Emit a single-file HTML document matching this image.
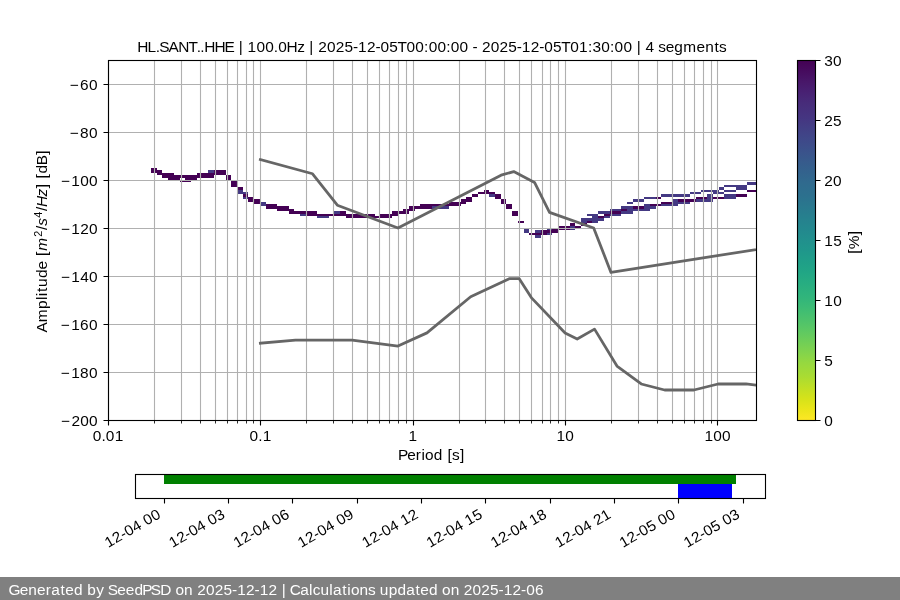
<!DOCTYPE html>
<html lang="en">
<head>
<meta charset="utf-8">
<title>PPSD HL.SANT..HHE</title>
<style>
html,body{margin:0;padding:0;background:#ffffff;}
body{width:900px;height:600px;overflow:hidden;font-family:"Liberation Sans",sans-serif;}
svg{display:block;}
</style>
</head>
<body>
<svg width="900" height="600" viewBox="0 0 900 600">
<defs>
<linearGradient id="vir" x1="0" y1="0" x2="0" y2="1"><stop offset="0" stop-color="#440154"/><stop offset="0.03" stop-color="#460b5e"/><stop offset="0.06" stop-color="#481769"/><stop offset="0.09" stop-color="#482173"/><stop offset="0.12" stop-color="#472c7a"/><stop offset="0.16" stop-color="#453581"/><stop offset="0.19" stop-color="#423f85"/><stop offset="0.22" stop-color="#3f4889"/><stop offset="0.25" stop-color="#3b518b"/><stop offset="0.28" stop-color="#375a8c"/><stop offset="0.31" stop-color="#33628d"/><stop offset="0.34" stop-color="#306a8e"/><stop offset="0.38" stop-color="#2c718e"/><stop offset="0.41" stop-color="#29798e"/><stop offset="0.44" stop-color="#26818e"/><stop offset="0.47" stop-color="#23888e"/><stop offset="0.5" stop-color="#21908d"/><stop offset="0.53" stop-color="#1f978b"/><stop offset="0.56" stop-color="#1f9f88"/><stop offset="0.59" stop-color="#21a685"/><stop offset="0.62" stop-color="#27ad81"/><stop offset="0.66" stop-color="#31b57b"/><stop offset="0.69" stop-color="#3dbc74"/><stop offset="0.72" stop-color="#4cc26c"/><stop offset="0.75" stop-color="#5cc863"/><stop offset="0.78" stop-color="#6ece58"/><stop offset="0.81" stop-color="#81d34d"/><stop offset="0.84" stop-color="#95d840"/><stop offset="0.88" stop-color="#aadc32"/><stop offset="0.91" stop-color="#c0df25"/><stop offset="0.94" stop-color="#d5e21a"/><stop offset="0.97" stop-color="#eae51a"/><stop offset="1" stop-color="#fde725"/></linearGradient>
<clipPath id="axclip"><rect x="108" y="60" width="648" height="360"/></clipPath>
</defs>
<rect x="0" y="0" width="900" height="600" fill="#ffffff"/>
<path d="M151 168h6v2h-6zM151 170h11v3h-11zM214 170h12v3h-12zM157 173h17v2h-17zM197 173h29v2h-29zM162 175h52v3h-52zM226 175h5v3h-5zM168 178h12v2h-12zM185 178h12v2h-12zM226 178h5v2h-5zM180 180h11v2h-11zM231 180h6v2h-6zM231 182h6v3h-6zM231 185h6v2h-6zM237 187h6v3h-6zM484 190h5v2h-5zM747 190h9v2h-9zM478 192h17v2h-17zM243 194h5v3h-5zM472 194h6v3h-6zM495 194h6v3h-6zM736 194h11v3h-11zM248 197h6v2h-6zM466 197h6v2h-6zM495 197h6v2h-6zM656 197h5v2h-5zM696 197h11v2h-11zM713 197h11v2h-11zM248 199h12v3h-12zM461 199h11v3h-11zM501 199h5v3h-5zM678 199h18v3h-18zM254 202h6v2h-6zM449 202h17v2h-17zM501 202h5v2h-5zM661 202h12v2h-12zM266 204h11v2h-11zM420 204h41v2h-41zM506 204h6v2h-6zM650 204h11v2h-11zM266 206h23v3h-23zM409 206h23v3h-23zM506 206h6v3h-6zM633 206h11v3h-11zM277 209h17v2h-17zM403 209h12v2h-12zM621 209h6v2h-6zM289 211h28v3h-28zM340 211h6v3h-6zM392 211h17v3h-17zM512 211h6v3h-6zM610 211h11v3h-11zM306 214h69v2h-69zM380 214h18v2h-18zM512 214h6v2h-6zM604 214h6v2h-6zM346 216h46v2h-46zM598 216h6v2h-6zM518 221h6v2h-6zM587 221h5v2h-5zM570 223h5v3h-5zM581 223h6v3h-6zM558 226h12v2h-12zM575 226h6v2h-6zM552 228h18v2h-18zM541 230h17v3h-17zM529 233h18v2h-18z" fill="#440154" shape-rendering="crispEdges"/>
<path d="M208 170h6v3h-6zM747 182h9v3h-9zM724 185h23v2h-23zM719 187h5v3h-5zM736 187h11v3h-11zM237 190h6v2h-6zM701 190h18v2h-18zM724 190h12v2h-12zM237 192h11v2h-11zM690 192h11v2h-11zM713 192h11v2h-11zM489 194h6v3h-6zM661 194h29v3h-29zM707 194h6v3h-6zM724 194h12v3h-12zM243 197h5v2h-5zM644 197h12v2h-12zM707 197h6v2h-6zM724 197h12v2h-12zM633 199h11v3h-11zM673 199h5v3h-5zM696 199h17v3h-17zM260 202h6v2h-6zM627 202h6v2h-6zM673 202h17v2h-17zM260 204h6v2h-6zM644 204h6v2h-6zM661 204h17v2h-17zM432 206h17v3h-17zM621 206h12v3h-12zM644 206h12v3h-12zM610 209h11v2h-11zM627 209h23v2h-23zM334 211h6v3h-6zM598 211h12v3h-12zM621 211h12v3h-12zM300 214h6v2h-6zM587 214h11v2h-11zM610 214h11v2h-11zM317 216h12v2h-12zM592 216h6v2h-6zM604 216h6v2h-6zM581 218h23v3h-23zM581 221h6v2h-6zM592 221h6v2h-6zM570 226h5v2h-5zM524 228h5v2h-5zM547 228h5v2h-5zM570 228h5v2h-5zM524 230h5v3h-5zM535 230h6v3h-6zM547 233h5v2h-5zM535 235h6v3h-6z" fill="#443983" shape-rendering="crispEdges"/>
<path d="M108.5 60V420M260.5 60V420M413.5 60V420M565.5 60V420M717.5 60V420M154.5 60V420M181.5 60V420M200.5 60V420M215.5 60V420M227.5 60V420M237.5 60V420M246.5 60V420M253.5 60V420M306.5 60V420M333.5 60V420M352.5 60V420M367.5 60V420M379.5 60V420M389.5 60V420M398.5 60V420M406.5 60V420M459.5 60V420M485.5 60V420M504.5 60V420M519.5 60V420M531.5 60V420M542.5 60V420M550.5 60V420M558.5 60V420M611.5 60V420M638.5 60V420M657.5 60V420M672.5 60V420M684.5 60V420M694.5 60V420M703.5 60V420M711.5 60V420M108 420.5H756M108 372.5H756M108 324.5H756M108 276.5H756M108 228.5H756M108 180.5H756M108 132.5H756M108 84.5H756" stroke="#b0b0b0" stroke-width="1.11" fill="none"/>
<g clip-path="url(#axclip)"><path d="M260.37 159.6L312.54 173.77L337.34 205.2L397.97 228L501.08 175.19L513.72 171.59L534.53 182.4L549.51 212.39L593.68 228.01L610.97 272.39L801.27 242.41 M260.37 343.2L295.48 340.08L352.1 340.07L397.97 346.08L426.97 332.87L470.67 296.75L509.26 278.64L519.24 278.63L531.3 297.6L565.1 333L577.17 338.99L594.53 329.11L616.98 366.01L641.24 383.99L664.63 390L693.87 390L718.13 384L746.05 383.97L796.08 389.98" stroke="#666666" stroke-width="2.78" fill="none" stroke-linejoin="round" stroke-linecap="square"/></g>
<path d="M108.5 420.5v5M260.5 420.5v5M413.5 420.5v5M565.5 420.5v5M717.5 420.5v5M108.5 420.5h-5M108.5 372.5h-5M108.5 324.5h-5M108.5 276.5h-5M108.5 228.5h-5M108.5 180.5h-5M108.5 132.5h-5M108.5 84.5h-5" stroke="#000" stroke-width="1.11" fill="none"/>
<path d="M154.5 420.5v3M181.5 420.5v3M200.5 420.5v3M215.5 420.5v3M227.5 420.5v3M237.5 420.5v3M246.5 420.5v3M253.5 420.5v3M306.5 420.5v3M333.5 420.5v3M352.5 420.5v3M367.5 420.5v3M379.5 420.5v3M389.5 420.5v3M398.5 420.5v3M406.5 420.5v3M459.5 420.5v3M485.5 420.5v3M504.5 420.5v3M519.5 420.5v3M531.5 420.5v3M542.5 420.5v3M550.5 420.5v3M558.5 420.5v3M611.5 420.5v3M638.5 420.5v3M657.5 420.5v3M672.5 420.5v3M684.5 420.5v3M694.5 420.5v3M703.5 420.5v3M711.5 420.5v3" stroke="#000" stroke-width="0.83" fill="none"/>
<rect x="108.5" y="60.5" width="648" height="360" fill="none" stroke="#000" stroke-width="1.11"/>
<rect x="797" y="60" width="18" height="360" fill="url(#vir)"/>
<path d="M815.5 420.5h5M815.5 360.5h5M815.5 300.5h5M815.5 240.5h5M815.5 180.5h5M815.5 120.5h5M815.5 60.5h5" stroke="#000" stroke-width="1.11" fill="none"/>
<rect x="797.5" y="60.5" width="18" height="360" fill="none" stroke="#000" stroke-width="1.11"/>
<rect x="164" y="474" width="572" height="10" fill="#008000"/>
<rect x="678" y="484" width="54" height="14" fill="#0000ff"/>
<path d="M164.5 498.5v5M228.5 498.5v5M292.5 498.5v5M357.5 498.5v5M421.5 498.5v5M485.5 498.5v5M550.5 498.5v5M614.5 498.5v5M678.5 498.5v5M743.5 498.5v5" stroke="#000" stroke-width="1.11" fill="none"/>
<rect x="135.5" y="474.5" width="630" height="24" fill="none" stroke="#000" stroke-width="1.11"/>
<rect x="0" y="577" width="900" height="23" fill="#808080"/>
<g font-family="'Liberation Sans', sans-serif" font-size="14.7" fill="#000" style="opacity:0.999">
<text transform="translate(137.56 51.67) scale(1.05 1)" x="-0.37 9.48 17.3 20.69 29.5 38.68 48.49 56.29 59.68 63.44 73.32 82.84 91.9 96.36 100.48 104.78 113.17 121.51 129.8 134.01 141.89 151.98 159.17 163.63 167.74 171.98 180.32 188.65 196.98 205.11 210.02 218.41 226.54 231.39 239.72 247.53 256.15 264.48 272.9 277.22 285.56 293.97 298.29 306.63 314.88 318.92 323.69 327.94 336.27 344.6 352.94 361.06 365.97 374.36 382.49 387.34 395.67 403.49 412.1 420.5 428.97 433.29 441.63 450.04 454.36 462.7 470.95 475.41 479.52 483.77 492.02 495.91 502.94 511.21 519.83 532.34 540.56 549.39 553.77" y="0">HL.SANT..HHE | 100.0Hz | 2025-12-05T00:00:00 - 2025-12-05T01:30:00 | 4 segments</text>
<text transform="translate(92.62 441.28) scale(1.05 1)" x="0.08 8.37 12.58 20.97" y="0">0.01</text>
<text transform="translate(249.37 441.28) scale(1.05 1)" x="0.08 8.37 12.64" y="0">0.1</text>
<text transform="translate(408.3 441.28) scale(1.05 1)" x="0.14" y="0">1</text>
<text transform="translate(556.29 441.28) scale(1.05 1)" x="0.14 8.53" y="0">10</text>
<text transform="translate(704.29 441.28) scale(1.05 1)" x="0.14 8.53 16.86" y="0">100</text>
<text transform="translate(399.06 459.87) scale(1.05 1)" x="-0.91 7.7 15.89 21.28 24.72 33 41.31 46.05 50.43 58.08" y="0">Period [s]</text>
<text transform="translate(68.33 90.28) scale(1.05 1)" x="1.24 11.21 19.6" y="0">−60</text>
<text transform="translate(68.33 138.28) scale(1.05 1)" x="1.24 11.21 19.6" y="0">−80</text>
<text transform="translate(59.58 186.28) scale(1.05 1)" x="1.24 11.21 19.6 27.94" y="0">−100</text>
<text transform="translate(59.58 234.28) scale(1.05 1)" x="1.24 11.21 19.6 27.94" y="0">−120</text>
<text transform="translate(59.58 282.28) scale(1.05 1)" x="1.24 11.21 19.6 27.94" y="0">−140</text>
<text transform="translate(59.45 330.28) scale(1.05 1)" x="1.24 11.21 19.66 28.06" y="0">−160</text>
<text transform="translate(59.45 378.28) scale(1.05 1)" x="1.24 11.21 19.66 28.06" y="0">−180</text>
<text transform="translate(59.7 426.28) scale(1.05 1)" x="1.24 11.15 19.48 27.82" y="0">−200</text>
<text transform="translate(824.22 66.28) scale(1.05 1)" x="0.08 8.41" y="0">30</text>
<text transform="translate(824.22 126.28) scale(1.05 1)" x="0.08 8.41" y="0">25</text>
<text transform="translate(824.22 186.28) scale(1.05 1)" x="0.08 8.41" y="0">20</text>
<text transform="translate(824.22 246.28) scale(1.05 1)" x="0.14 8.53" y="0">15</text>
<text transform="translate(824.22 306.28) scale(1.05 1)" x="0.14 8.53" y="0">10</text>
<text transform="translate(824.22 366.28) scale(1.05 1)" x="0.08" y="0">5</text>
<text transform="translate(824.22 426.28) scale(1.05 1)" x="0.08" y="0">0</text>
<text transform="translate(858.6 254.36) rotate(-90) scale(1.05 1)" x="0.58 4.95 18.32" y="0">[%]</text>
<text transform="translate(48.66 332.04) rotate(-90) scale(1.05 1)"><tspan x="-0.38 9.37 22.04 30.53 34.21 38.23 42.97 51.36 59.63 67.78 72.53" y="-1.36">Amplitude [</tspan><tspan x="77.47" y="-1.36" font-style="italic">m</tspan><tspan x="90.73" y="-6.67" font-size="10.29">2</tspan><tspan x="97.09" y="-1.36">/</tspan><tspan x="101.13" y="-1.36" font-style="italic">s</tspan><tspan x="108.95" y="-6.67" font-size="10.29">4</tspan><tspan x="115.3" y="-1.36">/</tspan><tspan x="119.07 129.15" y="-1.36" font-style="italic">Hz</tspan><tspan x="136.84 141.46 146.2 150.93 158.85 168.83" y="-1.36">] [dB]</tspan></text>
<text transform="translate(108.11 548.08) rotate(-30) scale(1.05 1)" x="0.14 8.53 16.66 21.51 29.84 38.1 42.34 50.67" y="0">12-04 00</text>
<text transform="translate(172.45 548.08) rotate(-30) scale(1.05 1)" x="0.14 8.53 16.66 21.51 29.84 38.1 42.34 50.67" y="0">12-04 03</text>
<text transform="translate(236.79 548.08) rotate(-30) scale(1.05 1)" x="0.14 8.53 16.66 21.51 29.84 38.1 42.34 50.73" y="0">12-04 06</text>
<text transform="translate(301.13 548.08) rotate(-30) scale(1.05 1)" x="0.14 8.53 16.66 21.51 29.84 38.1 42.34 50.73" y="0">12-04 09</text>
<text transform="translate(365.46 548.08) rotate(-30) scale(1.05 1)" x="0.14 8.53 16.66 21.51 29.84 38.1 42.4 50.79" y="0">12-04 12</text>
<text transform="translate(429.8 548.08) rotate(-30) scale(1.05 1)" x="0.14 8.53 16.66 21.51 29.84 38.1 42.4 50.79" y="0">12-04 15</text>
<text transform="translate(494.14 548.08) rotate(-30) scale(1.05 1)" x="0.14 8.53 16.66 21.51 29.84 38.1 42.4 50.85" y="0">12-04 18</text>
<text transform="translate(558.48 548.08) rotate(-30) scale(1.05 1)" x="0.14 8.53 16.66 21.51 29.84 38.1 42.34 50.73" y="0">12-04 21</text>
<text transform="translate(622.82 548.08) rotate(-30) scale(1.05 1)" x="0.14 8.53 16.66 21.51 29.84 38.1 42.34 50.67" y="0">12-05 00</text>
<text transform="translate(687.15 548.08) rotate(-30) scale(1.05 1)" x="0.14 8.53 16.66 21.51 29.84 38.1 42.34 50.67" y="0">12-05 03</text>
<text transform="translate(9 595) scale(1.05 1)" x="-0.6 10.2 18.41 26.63 35.05 40.26 49.03 53.65 61.92 70.24 74.54 83.11 90.71 94.15 103.17 111.27 119.54 126.94 135.1 143.98 154.4 158.53 166.75 175 179.25 187.58 195.91 204.25 212.37 217.28 225.67 233.8 238.71 247.1 255.36 259.82 263.93 267.43 277.4 285.81 289.24 296.63 305.09 308.59 317.36 322.24 325.67 333.89 341.86 348.93 353.17 361.57 370.02 378.35 387.12 391.75 400.02 408.33 412.46 420.67 428.93 433.17 441.51 449.84 458.17 466.3 471.21 479.6 487.73 492.58 500.97" y="0" fill="#ffffff">Generated by SeedPSD on 2025-12-12 | Calculations updated on 2025-12-06</text>
</g>
</svg>
</body>
</html>
